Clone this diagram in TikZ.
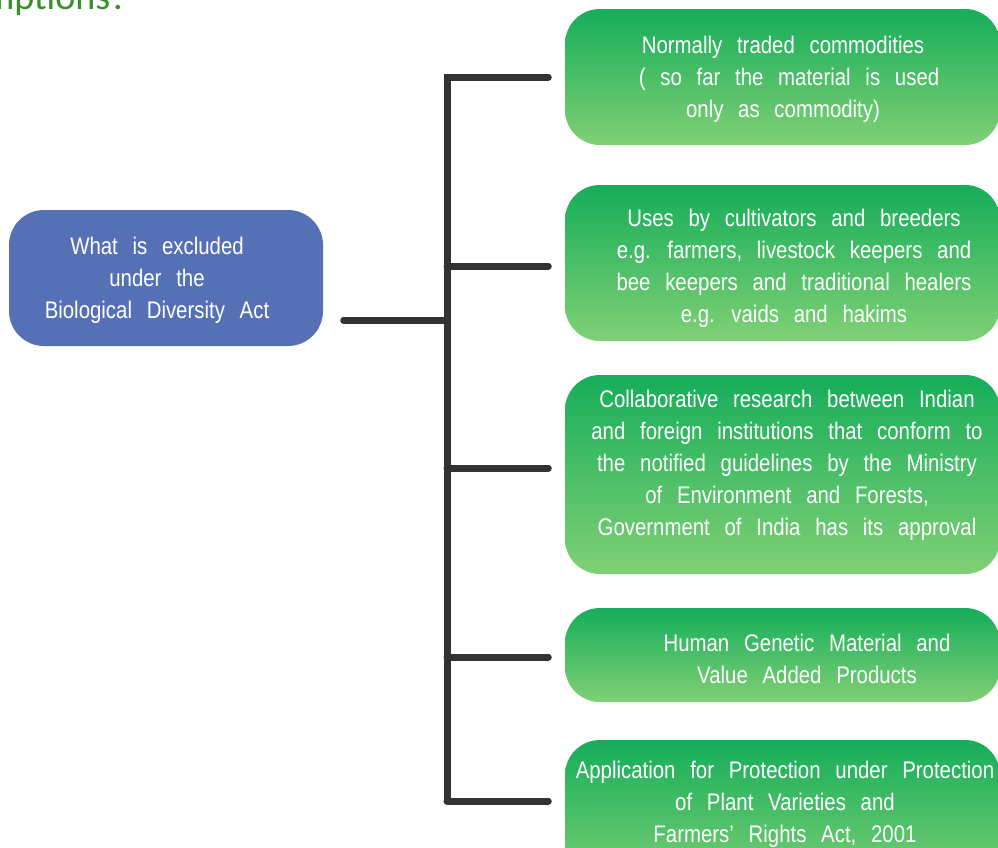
\documentclass[tikz,border=0pt]{standalone}
\usepackage{fontspec}
\setmainfont{Liberation Sans}[FakeStretch=0.85,WordSpace=2.6]
\newfontfamily\titlefont{Carlito}
\usetikzlibrary{calc}
\definecolor{boxblue}{HTML}{5670B5}
\definecolor{gtop}{HTML}{16AD5A}
\definecolor{gbot}{HTML}{80D075}
\definecolor{lineclr}{HTML}{353235}
\definecolor{titlegreen}{HTML}{3A8F2A}
\tikzset{
  gbox/.style={rectangle, rounded corners=35pt, top color=gtop, bottom color=gbot,
    draw=none, minimum width=435pt, inner sep=0pt, text=white},
  bbox/.style={rectangle, rounded corners=35pt, fill=boxblue, draw=none,
    minimum width=314pt, minimum height=136pt, inner sep=0pt},
  txt/.style={text=white, align=center, font=\fontsize{24}{32}\selectfont, inner sep=0pt},
  conn/.style={draw=lineclr, line width=7pt, line cap=round, line join=miter},
}
\begin{document}
\begin{tikzpicture}[x=1pt,y=-1pt]
\useasboundingbox (0,0) rectangle (998,847);
\clip (0,0) rectangle (998,847);
\fill[white] (0,0) rectangle (998,847);
% title fragment
\node[anchor=base east, inner sep=0pt, text=titlegreen, font=\titlefont\fontsize{38}{42}\selectfont] (title) at (128,9) {Exemptions?};
% boxes
\node[bbox] (root) at (166,278) {};
\node[gbox, minimum height=136pt] (b1) at (782.5,77) {};
\node[gbox, minimum height=156pt] (b2) at (782.5,263) {};
\node[gbox, minimum height=199pt] (b3) at (782.5,474.5) {};
\node[gbox, minimum height=94pt] (b4) at (782.5,655) {};
\node[gbox, minimum height=150pt] (b5) at (782.5,815) {};
% texts
\node[txt] (t0) at (157,280) {What is excluded\\under the\\Biological Diversity Act};
\node[txt] (t1) at (783,79) {Normally traded commodities\\\hspace*{12pt}( so far the material is used\\only as commodity)};
\node[txt] (t2) at (794,268) {Uses by cultivators and breeders\\e.g. farmers, livestock keepers and\\bee keepers and traditional healers\\e.g. vaids and hakims};
\node[txt] (t3) at (787,465.5) {Collaborative research between Indian\\and foreign institutions that conform to\\the notified guidelines by the Ministry\\of Environment and Forests,\\Government of India has its approval};
\node[txt] (t4) at (807,659) {Human Genetic Material and\\Value Added Products};
\node[txt] (t5) at (785,804) {Application for Protection under Protection\\of Plant Varieties and\\Farmers’ Rights Act, 2001};
% connectors
\coordinate (s1) at (447,77);
\coordinate (s2) at (447,266);
\coordinate (j) at (447,320);
\coordinate (s3) at (447,468);
\coordinate (s4) at (447,657);
\coordinate (s5) at (447,801);
\draw[conn, shorten >=16.5pt] (s5) -- (s1) -- (b1.west |- s1);
\draw[conn, shorten <=20.5pt] (root.east |- j) -- (j);
\draw[conn, shorten >=16.5pt] (s2) -- (b2.west |- s2);
\draw[conn, shorten >=16.5pt] (s3) -- (b3.west |- s3);
\draw[conn, shorten >=16.5pt] (s4) -- (b4.west |- s4);
\draw[conn, shorten >=16.5pt] (s5) -- (b5.west |- s5);
\end{tikzpicture}
\end{document}
